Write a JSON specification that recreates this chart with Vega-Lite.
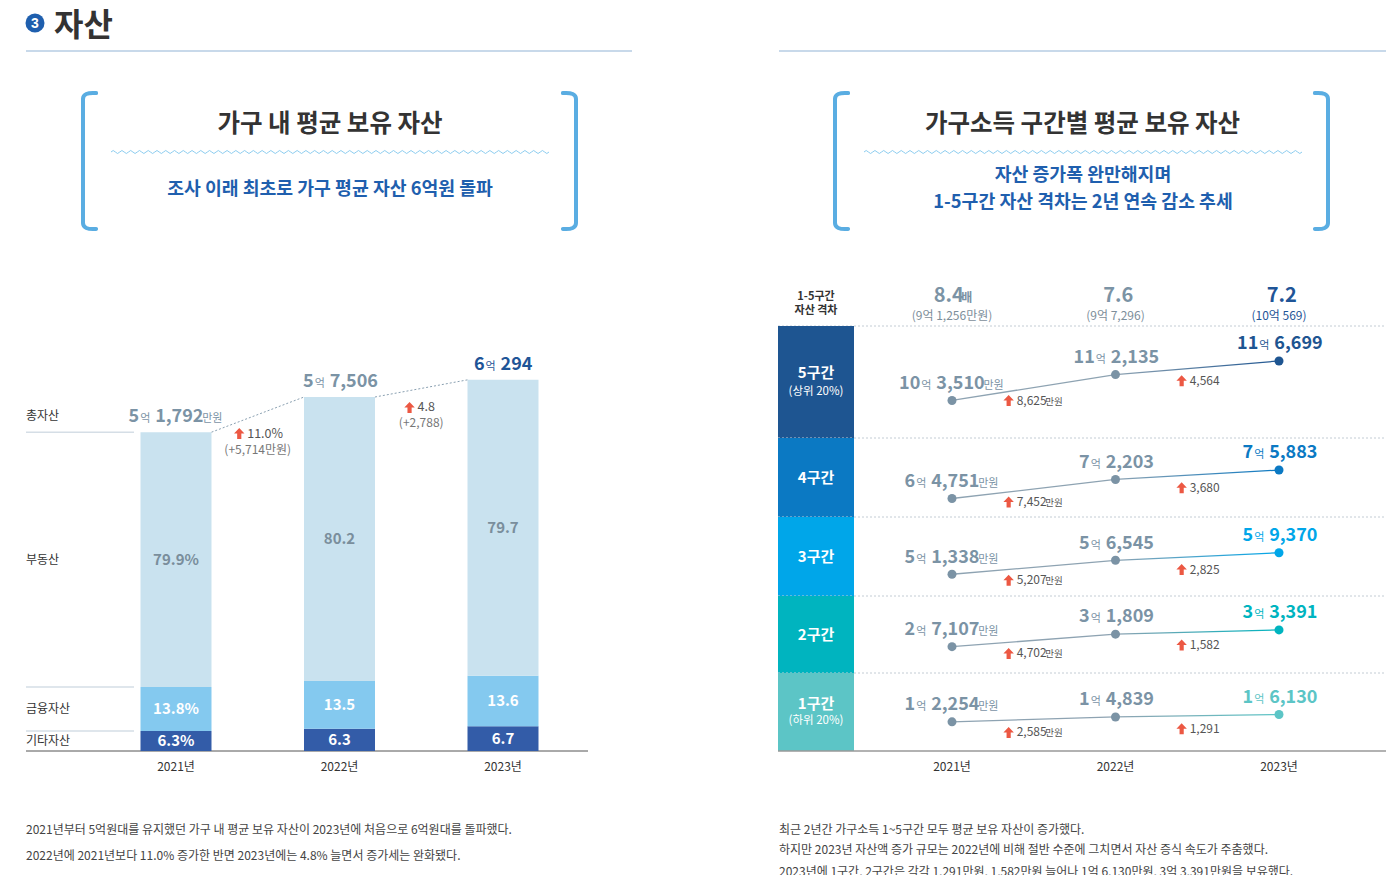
{
  "$schema": "https://vega.github.io/schema/vega-lite/v6.json",
  "background": "#ffffff",
  "padding": {"left": 25, "top": 0, "right": 0, "bottom": 0},
  "spacing": 0,
  "bounds": "full",
  "config": {
    "view": {"stroke": null},
    "font": "Noto Sans CJK KR",
    "axis": {"disable": true},
    "legend": {"disable": true},
    "concat": {"spacing": 0}
  },
  "datasets": {
    "assets": [
      {"year": 2021, "category": "기타자산", "share": 6.3, "amount": 3262.9, "label": "6.3%"},
      {"year": 2021, "category": "금융자산", "share": 13.8, "amount": 7147.3, "label": "13.8%"},
      {"year": 2021, "category": "부동산", "share": 79.9, "amount": 41381.8, "label": "79.9%"},
      {"year": 2022, "category": "기타자산", "share": 6.3, "amount": 3622.9, "label": "6.3"},
      {"year": 2022, "category": "금융자산", "share": 13.5, "amount": 7763.3, "label": "13.5"},
      {"year": 2022, "category": "부동산", "share": 80.2, "amount": 46119.8, "label": "80.2"},
      {"year": 2023, "category": "기타자산", "share": 6.7, "amount": 4039.7, "label": "6.7"},
      {"year": 2023, "category": "금융자산", "share": 13.6, "amount": 8200.0, "label": "13.6"},
      {"year": 2023, "category": "부동산", "share": 79.7, "amount": 48054.3, "label": "79.7"}
    ],
    "totals": [
      {"year": 2021, "total": 51792, "eok": "5", "man": "1,792", "unit": "만원"},
      {"year": 2022, "total": 57506, "eok": "5", "man": "7,506", "unit": ""},
      {"year": 2023, "total": 60294, "eok": "6", "man": "294", "unit": ""}
    ],
    "growth": [
      {"from_year": 2021, "to_year": 2022, "from_total": 51792, "to_total": 57506, "rate": "11.0%", "diff": "(+5,714만원)"},
      {"from_year": 2022, "to_year": 2023, "from_total": 57506, "to_total": 60294, "rate": "4.8", "diff": "(+2,788)"}
    ],
    "years": [
      {"year": 2021, "label": "2021년"},
      {"year": 2022, "label": "2022년"},
      {"year": 2023, "label": "2023년"}
    ],
    "bands": [
      {"band": 5, "name": "5구간", "note": "(상위 20%)"},
      {"band": 4, "name": "4구간", "note": ""},
      {"band": 3, "name": "3구간", "note": ""},
      {"band": 2, "name": "2구간", "note": ""},
      {"band": 1, "name": "1구간", "note": "(하위 20%)"}
    ],
    "gaps": [
      {"year": 2021, "ratio": "8.4", "unit": "배", "amount": "(9억 1,256만원)"},
      {"year": 2022, "ratio": "7.6", "unit": "", "amount": "(9억 7,296)"},
      {"year": 2023, "ratio": "7.2", "unit": "", "amount": "(10억 569)"}
    ],
    "holdings": [
      {"band": 5, "year": 2021, "value": 103510, "eok": "10", "man": "3,510", "unit": "만원"},
      {"band": 5, "year": 2022, "value": 112135, "eok": "11", "man": "2,135", "unit": ""},
      {"band": 5, "year": 2023, "value": 116699, "eok": "11", "man": "6,699", "unit": ""},
      {"band": 4, "year": 2021, "value": 64751, "eok": "6", "man": "4,751", "unit": "만원"},
      {"band": 4, "year": 2022, "value": 72203, "eok": "7", "man": "2,203", "unit": ""},
      {"band": 4, "year": 2023, "value": 75883, "eok": "7", "man": "5,883", "unit": ""},
      {"band": 3, "year": 2021, "value": 51338, "eok": "5", "man": "1,338", "unit": "만원"},
      {"band": 3, "year": 2022, "value": 56545, "eok": "5", "man": "6,545", "unit": ""},
      {"band": 3, "year": 2023, "value": 59370, "eok": "5", "man": "9,370", "unit": ""},
      {"band": 2, "year": 2021, "value": 27107, "eok": "2", "man": "7,107", "unit": "만원"},
      {"band": 2, "year": 2022, "value": 31809, "eok": "3", "man": "1,809", "unit": ""},
      {"band": 2, "year": 2023, "value": 33391, "eok": "3", "man": "3,391", "unit": ""},
      {"band": 1, "year": 2021, "value": 12254, "eok": "1", "man": "2,254", "unit": "만원"},
      {"band": 1, "year": 2022, "value": 14839, "eok": "1", "man": "4,839", "unit": ""},
      {"band": 1, "year": 2023, "value": 16130, "eok": "1", "man": "6,130", "unit": ""}
    ],
    "changes": [
      {"band": 5, "from_year": 2021, "to_year": 2022, "from_value": 103510, "to_value": 112135, "inc": "8,625", "unit": "만원"},
      {"band": 5, "from_year": 2022, "to_year": 2023, "from_value": 112135, "to_value": 116699, "inc": "4,564", "unit": ""},
      {"band": 4, "from_year": 2021, "to_year": 2022, "from_value": 64751, "to_value": 72203, "inc": "7,452", "unit": "만원"},
      {"band": 4, "from_year": 2022, "to_year": 2023, "from_value": 72203, "to_value": 75883, "inc": "3,680", "unit": ""},
      {"band": 3, "from_year": 2021, "to_year": 2022, "from_value": 51338, "to_value": 56545, "inc": "5,207", "unit": "만원"},
      {"band": 3, "from_year": 2022, "to_year": 2023, "from_value": 56545, "to_value": 59370, "inc": "2,825", "unit": ""},
      {"band": 2, "from_year": 2021, "to_year": 2022, "from_value": 27107, "to_value": 31809, "inc": "4,702", "unit": "만원"},
      {"band": 2, "from_year": 2022, "to_year": 2023, "from_value": 31809, "to_value": 33391, "inc": "1,582", "unit": ""},
      {"band": 1, "from_year": 2021, "to_year": 2022, "from_value": 12254, "to_value": 14839, "inc": "2,585", "unit": "만원"},
      {"band": 1, "from_year": 2022, "to_year": 2023, "from_value": 14839, "to_value": 16130, "inc": "1,291", "unit": ""}
    ]
  },
  "vconcat": [
    {
      "width": 1360,
      "height": 245,
      "layer": [
        {"data": {"values": [{}]}, "mark": {"type": "point", "shape": "circle", "filled": true, "size": 361, "color": "#1f5fae", "opacity": 1},
         "encoding": {"x": {"datum": 34, "type": "quantitative", "scale": {"domain": [25, 1385], "nice": false, "zero": false}}, "y": {"datum": 23, "type": "quantitative", "scale": {"domain": [0, 245], "nice": false, "zero": false, "reverse": true}}}},
        {"data": {"values": [{"t": "3"}]}, "mark": {"type": "text", "fontSize": 14, "fontWeight": "bold", "color": "#ffffff", "font": "Liberation Sans"},
         "encoding": {"x": {"datum": 34, "type": "quantitative"}, "y": {"datum": 23.5, "type": "quantitative"}, "text": {"field": "t"}}},
        {"data": {"values": [{"t": "자산"}]}, "mark": {"type": "text", "align": "left", "fontSize": 32, "fontWeight": "bold", "color": "#333333"},
         "encoding": {"x": {"datum": 53, "type": "quantitative"}, "y": {"datum": 26, "type": "quantitative"}, "text": {"field": "t"}}},
        {"data": {"values": [{}]}, "mark": {"type": "rule", "stroke": "#c8d9ea", "strokeWidth": 2},
         "encoding": {"x": {"datum": 25, "type": "quantitative"}, "x2": {"datum": 631}, "y": {"datum": 51, "type": "quantitative"}}},
        {"data": {"values": [{}]}, "mark": {"type": "rule", "stroke": "#c8d9ea", "strokeWidth": 2},
         "encoding": {"x": {"datum": 778, "type": "quantitative"}, "x2": {"datum": 1385}, "y": {"datum": 51, "type": "quantitative"}}},
        {"data": {"values": [{}]}, "mark": {"type": "point", "shape": "M0.19,-0.985Q0,-1,0,-0.9L0,0.9Q0,1,0.19,0.985", "size": 19044, "filled": false, "stroke": "#5aade2", "strokeWidth": 4, "strokeCap": "round", "opacity": 1},
         "encoding": {"x": {"datum": 82, "type": "quantitative"}, "y": {"datum": 161, "type": "quantitative"}}},
        {"data": {"values": [{}]}, "mark": {"type": "point", "shape": "M-0.19,-0.985Q0,-1,0,-0.9L0,0.9Q0,1,-0.19,0.985", "size": 19044, "filled": false, "stroke": "#5aade2", "strokeWidth": 4, "strokeCap": "round", "opacity": 1},
         "encoding": {"x": {"datum": 575, "type": "quantitative"}, "y": {"datum": 161, "type": "quantitative"}}},
        {"data": {"values": [{}]}, "mark": {"type": "point", "shape": "M0.19,-0.985Q0,-1,0,-0.9L0,0.9Q0,1,0.19,0.985", "size": 19044, "filled": false, "stroke": "#5aade2", "strokeWidth": 4, "strokeCap": "round", "opacity": 1},
         "encoding": {"x": {"datum": 834, "type": "quantitative"}, "y": {"datum": 161, "type": "quantitative"}}},
        {"data": {"values": [{}]}, "mark": {"type": "point", "shape": "M-0.19,-0.985Q0,-1,0,-0.9L0,0.9Q0,1,-0.19,0.985", "size": 19044, "filled": false, "stroke": "#5aade2", "strokeWidth": 4, "strokeCap": "round", "opacity": 1},
         "encoding": {"x": {"datum": 1327, "type": "quantitative"}, "y": {"datum": 161, "type": "quantitative"}}},
        {"data": {"values": [{}]}, "mark": {"type": "point", "shape": "M-1,0Q-0.99,-0.0137,-0.98,0Q-0.97,0.0137,-0.96,0Q-0.95,-0.0137,-0.94,0Q-0.93,0.0137,-0.92,0Q-0.91,-0.0137,-0.9,0Q-0.89,0.0137,-0.88,0Q-0.87,-0.0137,-0.86,0Q-0.85,0.0137,-0.84,0Q-0.83,-0.0137,-0.82,0Q-0.81,0.0137,-0.8,0Q-0.79,-0.0137,-0.78,0Q-0.77,0.0137,-0.76,0Q-0.75,-0.0137,-0.74,0Q-0.73,0.0137,-0.72,0Q-0.71,-0.0137,-0.7,0Q-0.69,0.0137,-0.68,0Q-0.67,-0.0137,-0.66,0Q-0.65,0.0137,-0.64,0Q-0.63,-0.0137,-0.62,0Q-0.61,0.0137,-0.6,0Q-0.59,-0.0137,-0.58,0Q-0.57,0.0137,-0.56,0Q-0.55,-0.0137,-0.54,0Q-0.53,0.0137,-0.52,0Q-0.51,-0.0137,-0.5,0Q-0.49,0.0137,-0.48,0Q-0.47,-0.0137,-0.46,0Q-0.45,0.0137,-0.44,0Q-0.43,-0.0137,-0.42,0Q-0.41,0.0137,-0.4,0Q-0.39,-0.0137,-0.38,0Q-0.37,0.0137,-0.36,0Q-0.35,-0.0137,-0.34,0Q-0.33,0.0137,-0.32,0Q-0.31,-0.0137,-0.3,0Q-0.29,0.0137,-0.28,0Q-0.27,-0.0137,-0.26,0Q-0.25,0.0137,-0.24,0Q-0.23,-0.0137,-0.22,0Q-0.21,0.0137,-0.2,0Q-0.19,-0.0137,-0.18,0Q-0.17,0.0137,-0.16,0Q-0.15,-0.0137,-0.14,0Q-0.13,0.0137,-0.12,0Q-0.11,-0.0137,-0.1,0Q-0.09,0.0137,-0.08,0Q-0.07,-0.0137,-0.06,0Q-0.05,0.0137,-0.04,0Q-0.03,-0.0137,-0.02,0Q-0.01,0.0137,0,0Q0.01,-0.0137,0.02,0Q0.03,0.0137,0.04,0Q0.05,-0.0137,0.06,0Q0.07,0.0137,0.08,0Q0.09,-0.0137,0.1,0Q0.11,0.0137,0.12,0Q0.13,-0.0137,0.14,0Q0.15,0.0137,0.16,0Q0.17,-0.0137,0.18,0Q0.19,0.0137,0.2,0Q0.21,-0.0137,0.22,0Q0.23,0.0137,0.24,0Q0.25,-0.0137,0.26,0Q0.27,0.0137,0.28,0Q0.29,-0.0137,0.3,0Q0.31,0.0137,0.32,0Q0.33,-0.0137,0.34,0Q0.35,0.0137,0.36,0Q0.37,-0.0137,0.38,0Q0.39,0.0137,0.4,0Q0.41,-0.0137,0.42,0Q0.43,0.0137,0.44,0Q0.45,-0.0137,0.46,0Q0.47,0.0137,0.48,0Q0.49,-0.0137,0.5,0Q0.51,0.0137,0.52,0Q0.53,-0.0137,0.54,0Q0.55,0.0137,0.56,0Q0.57,-0.0137,0.58,0Q0.59,0.0137,0.6,0Q0.61,-0.0137,0.62,0Q0.63,0.0137,0.64,0Q0.65,-0.0137,0.66,0Q0.67,0.0137,0.68,0Q0.69,-0.0137,0.7,0Q0.71,0.0137,0.72,0Q0.73,-0.0137,0.74,0Q0.75,0.0137,0.76,0Q0.77,-0.0137,0.78,0Q0.79,0.0137,0.8,0Q0.81,-0.0137,0.82,0Q0.83,0.0137,0.84,0Q0.85,-0.0137,0.86,0Q0.87,0.0137,0.88,0Q0.89,-0.0137,0.9,0Q0.91,0.0137,0.92,0Q0.93,-0.0137,0.94,0Q0.95,0.0137,0.96,0Q0.97,-0.0137,0.98,0Q0.99,0.0137,1,0", "size": 191844, "filled": false, "stroke": "#8ccdf0", "strokeWidth": 1, "opacity": 1},
         "encoding": {"x": {"datum": 329, "type": "quantitative"}, "y": {"datum": 152, "type": "quantitative"}}},
        {"data": {"values": [{}]}, "mark": {"type": "point", "shape": "M-1,0Q-0.99,-0.0137,-0.98,0Q-0.97,0.0137,-0.96,0Q-0.95,-0.0137,-0.94,0Q-0.93,0.0137,-0.92,0Q-0.91,-0.0137,-0.9,0Q-0.89,0.0137,-0.88,0Q-0.87,-0.0137,-0.86,0Q-0.85,0.0137,-0.84,0Q-0.83,-0.0137,-0.82,0Q-0.81,0.0137,-0.8,0Q-0.79,-0.0137,-0.78,0Q-0.77,0.0137,-0.76,0Q-0.75,-0.0137,-0.74,0Q-0.73,0.0137,-0.72,0Q-0.71,-0.0137,-0.7,0Q-0.69,0.0137,-0.68,0Q-0.67,-0.0137,-0.66,0Q-0.65,0.0137,-0.64,0Q-0.63,-0.0137,-0.62,0Q-0.61,0.0137,-0.6,0Q-0.59,-0.0137,-0.58,0Q-0.57,0.0137,-0.56,0Q-0.55,-0.0137,-0.54,0Q-0.53,0.0137,-0.52,0Q-0.51,-0.0137,-0.5,0Q-0.49,0.0137,-0.48,0Q-0.47,-0.0137,-0.46,0Q-0.45,0.0137,-0.44,0Q-0.43,-0.0137,-0.42,0Q-0.41,0.0137,-0.4,0Q-0.39,-0.0137,-0.38,0Q-0.37,0.0137,-0.36,0Q-0.35,-0.0137,-0.34,0Q-0.33,0.0137,-0.32,0Q-0.31,-0.0137,-0.3,0Q-0.29,0.0137,-0.28,0Q-0.27,-0.0137,-0.26,0Q-0.25,0.0137,-0.24,0Q-0.23,-0.0137,-0.22,0Q-0.21,0.0137,-0.2,0Q-0.19,-0.0137,-0.18,0Q-0.17,0.0137,-0.16,0Q-0.15,-0.0137,-0.14,0Q-0.13,0.0137,-0.12,0Q-0.11,-0.0137,-0.1,0Q-0.09,0.0137,-0.08,0Q-0.07,-0.0137,-0.06,0Q-0.05,0.0137,-0.04,0Q-0.03,-0.0137,-0.02,0Q-0.01,0.0137,0,0Q0.01,-0.0137,0.02,0Q0.03,0.0137,0.04,0Q0.05,-0.0137,0.06,0Q0.07,0.0137,0.08,0Q0.09,-0.0137,0.1,0Q0.11,0.0137,0.12,0Q0.13,-0.0137,0.14,0Q0.15,0.0137,0.16,0Q0.17,-0.0137,0.18,0Q0.19,0.0137,0.2,0Q0.21,-0.0137,0.22,0Q0.23,0.0137,0.24,0Q0.25,-0.0137,0.26,0Q0.27,0.0137,0.28,0Q0.29,-0.0137,0.3,0Q0.31,0.0137,0.32,0Q0.33,-0.0137,0.34,0Q0.35,0.0137,0.36,0Q0.37,-0.0137,0.38,0Q0.39,0.0137,0.4,0Q0.41,-0.0137,0.42,0Q0.43,0.0137,0.44,0Q0.45,-0.0137,0.46,0Q0.47,0.0137,0.48,0Q0.49,-0.0137,0.5,0Q0.51,0.0137,0.52,0Q0.53,-0.0137,0.54,0Q0.55,0.0137,0.56,0Q0.57,-0.0137,0.58,0Q0.59,0.0137,0.6,0Q0.61,-0.0137,0.62,0Q0.63,0.0137,0.64,0Q0.65,-0.0137,0.66,0Q0.67,0.0137,0.68,0Q0.69,-0.0137,0.7,0Q0.71,0.0137,0.72,0Q0.73,-0.0137,0.74,0Q0.75,0.0137,0.76,0Q0.77,-0.0137,0.78,0Q0.79,0.0137,0.8,0Q0.81,-0.0137,0.82,0Q0.83,0.0137,0.84,0Q0.85,-0.0137,0.86,0Q0.87,0.0137,0.88,0Q0.89,-0.0137,0.9,0Q0.91,0.0137,0.92,0Q0.93,-0.0137,0.94,0Q0.95,0.0137,0.96,0Q0.97,-0.0137,0.98,0Q0.99,0.0137,1,0", "size": 191844, "filled": false, "stroke": "#8ccdf0", "strokeWidth": 1, "opacity": 1},
         "encoding": {"x": {"datum": 1082, "type": "quantitative"}, "y": {"datum": 152, "type": "quantitative"}}},
        {"data": {"values": [{"t": "가구 내 평균 보유 자산"}]}, "mark": {"type": "text", "fontSize": 24.5, "fontWeight": "bold", "color": "#333333"},
         "encoding": {"x": {"datum": 329, "type": "quantitative"}, "y": {"datum": 125, "type": "quantitative"}, "text": {"field": "t"}}},
        {"data": {"values": [{"t": "조사 이래 최초로 가구 평균 자산 6억원 돌파"}]}, "mark": {"type": "text", "fontSize": 18.3, "fontWeight": "bold", "color": "#1f5fae"},
         "encoding": {"x": {"datum": 329, "type": "quantitative"}, "y": {"datum": 190, "type": "quantitative"}, "text": {"field": "t"}}},
        {"data": {"values": [{"t": "가구소득 구간별 평균 보유 자산"}]}, "mark": {"type": "text", "fontSize": 24.5, "fontWeight": "bold", "color": "#333333"},
         "encoding": {"x": {"datum": 1081.5, "type": "quantitative"}, "y": {"datum": 125, "type": "quantitative"}, "text": {"field": "t"}}},
        {"data": {"values": [{"t": "자산 증가폭 완만해지며"}]}, "mark": {"type": "text", "fontSize": 18.3, "fontWeight": "bold", "color": "#1f5fae"},
         "encoding": {"x": {"datum": 1082, "type": "quantitative"}, "y": {"datum": 176, "type": "quantitative"}, "text": {"field": "t"}}},
        {"data": {"values": [{"t": "1-5구간 자산 격차는 2년 연속 감소 추세"}]}, "mark": {"type": "text", "fontSize": 18.3, "fontWeight": "bold", "color": "#1f5fae"},
         "encoding": {"x": {"datum": 1082, "type": "quantitative"}, "y": {"datum": 203, "type": "quantitative"}, "text": {"field": "t"}}}
      ]
    },
    {
      "hconcat": [
        {
          "width": 562,
          "height": 536,
          "layer": [
            {"data": {"values": [{}]}, "mark": {"type": "rule", "stroke": "#555555", "strokeWidth": 1},
             "encoding": {"x": {"datum": 2020.08257, "type": "quantitative", "scale": {"domain": [2020.08257, 2023.51988], "nice": false, "zero": false, "padding": 0}}, "x2": {"datum": 2023.51988}, "y": {"datum": 0, "type": "quantitative", "scale": {"domain": [-4873, 82200], "nice": false, "zero": false, "padding": 0}}}},
            {"data": {"name": "assets"}, "transform": [{"stack": "amount", "groupby": ["year"], "sort": [{"field": "share", "order": "ascending"}], "as": ["y0", "y1"]}, {"filter": "datum.year === 2021"}],
             "mark": {"type": "rule", "stroke": "#d5dee6", "strokeWidth": 1.5},
             "encoding": {"x": {"datum": 2020.08257, "type": "quantitative"}, "x2": {"datum": 2020.74312}, "y": {"field": "y1", "type": "quantitative"}}},
            {"data": {"name": "assets"}, "transform": [{"stack": "amount", "groupby": ["year"], "sort": [{"field": "share", "order": "ascending"}], "as": ["y0", "y1"]}],
             "mark": {"type": "bar", "width": 71},
             "encoding": {
               "x": {"field": "year", "type": "quantitative"},
               "y": {"field": "y0", "type": "quantitative"},
               "y2": {"field": "y1"},
               "color": {"field": "category", "type": "nominal", "scale": {"domain": ["부동산", "금융자산", "기타자산"], "range": ["#c9e2ef", "#84c9ef", "#335ca8"]}}
             }},
            {"data": {"name": "assets"}, "transform": [{"stack": "amount", "groupby": ["year"], "sort": [{"field": "share", "order": "ascending"}], "as": ["y0", "y1"]}, {"fold": ["y0", "y1"], "as": ["edge", "pos"]}],
             "mark": {"type": "text", "fontSize": 15, "fontWeight": "bold"},
             "encoding": {
               "x": {"field": "year", "type": "quantitative"},
               "y": {"aggregate": "mean", "field": "pos", "type": "quantitative"},
               "text": {"field": "label"},
               "detail": {"field": "category"},
               "color": {"condition": {"test": "datum.category === '부동산'", "value": "#7a8e9c"}, "value": "#ffffff"}
             }},
            {"data": {"name": "assets"}, "transform": [{"stack": "amount", "groupby": ["year"], "sort": [{"field": "share", "order": "ascending"}], "as": ["y0", "y1"]}, {"filter": "datum.year === 2021"}, {"fold": ["y0", "y1"], "as": ["edge", "pos"]}],
             "mark": {"type": "text", "align": "left", "fontSize": 12, "color": "#333333"},
             "encoding": {
               "x": {"datum": 2020.08257, "type": "quantitative"},
               "y": {"aggregate": "mean", "field": "pos", "type": "quantitative"},
               "text": {"field": "category"}
             }},
            {"data": {"name": "totals"}, "transform": [{"filter": "datum.year === 2021"}],
             "mark": {"type": "text", "align": "left", "fontSize": 12, "color": "#333333", "dy": -16},
             "encoding": {"x": {"datum": 2020.08257, "type": "quantitative"}, "y": {"field": "total", "type": "quantitative"}, "text": {"value": "총자산"}}},
            {"data": {"name": "growth"},
             "mark": {"type": "rule", "stroke": "#8aa0b1", "strokeWidth": 1, "strokeDash": [2, 2], "xOffset": 35.5, "x2Offset": -35.5},
             "encoding": {"x": {"field": "from_year", "type": "quantitative"}, "x2": {"field": "to_year"}, "y": {"field": "from_total", "type": "quantitative"}, "y2": {"field": "to_total"}}},
            {"data": {"name": "growth"}, "transform": [{"fold": ["from_year", "to_year"], "as": ["k1", "yr"]}, {"fold": ["from_total", "to_total"], "as": ["k2", "tot"]}],
             "mark": {"type": "point", "shape": "M0,-1L0.95,0L0.38,0L0.38,1L-0.38,1L-0.38,0L-0.95,0Z", "size": 121, "filled": true, "opacity": 1, "color": "#ec5843", "yOffset": 19, "xOffset": {"expr": "-(13+length(datum.rate)*6.8)/2+5"}},
             "encoding": {"x": {"aggregate": "mean", "field": "yr", "type": "quantitative"}, "y": {"aggregate": "mean", "field": "tot", "type": "quantitative"}, "detail": {"field": "rate"}}},
            {"data": {"name": "growth"}, "transform": [{"fold": ["from_year", "to_year"], "as": ["k1", "yr"]}, {"fold": ["from_total", "to_total"], "as": ["k2", "tot"]}],
             "mark": {"type": "text", "align": "left", "fontSize": 12.5, "color": "#555555", "dy": 19, "dx": {"expr": "-(13+length(datum.rate)*6.8)/2+13"}},
             "encoding": {"x": {"aggregate": "mean", "field": "yr", "type": "quantitative"}, "y": {"aggregate": "mean", "field": "tot", "type": "quantitative"}, "text": {"field": "rate"}}},
            {"data": {"name": "growth"}, "transform": [{"fold": ["from_year", "to_year"], "as": ["k1", "yr"]}, {"fold": ["from_total", "to_total"], "as": ["k2", "tot"]}],
             "mark": {"type": "text", "fontSize": 12, "color": "#777777", "dy": 35},
             "encoding": {"x": {"aggregate": "mean", "field": "yr", "type": "quantitative"}, "y": {"aggregate": "mean", "field": "tot", "type": "quantitative"}, "text": {"field": "diff"}}},
            {"data": {"name": "totals"},
             "mark": {"type": "text", "align": "right", "baseline": "alphabetic", "fontSize": 18, "fontWeight": "bold", "dy": -9.7, "dx": {"expr": "(length(datum.eok)*10.4-16-length(replace(datum.man,',',''))*10.4-(length(datum.man)-length(replace(datum.man,',','')))*4.5-length(datum.unit)*11)/2"}},
             "encoding": {"x": {"field": "year", "type": "quantitative"}, "y": {"field": "total", "type": "quantitative"}, "text": {"field": "eok"}, "color": {"condition": {"test": "datum.year === 2023", "value": "#1f5597"}, "value": "#7b93a5"}}},
            {"data": {"name": "totals"},
             "mark": {"type": "text", "align": "left", "baseline": "alphabetic", "fontSize": 11, "dy": -9.7, "dx": {"expr": "(length(datum.eok)*10.4-16-length(replace(datum.man,',',''))*10.4-(length(datum.man)-length(replace(datum.man,',','')))*4.5-length(datum.unit)*11)/2+1"}},
             "encoding": {"x": {"field": "year", "type": "quantitative"}, "y": {"field": "total", "type": "quantitative"}, "text": {"value": "억"}, "color": {"condition": {"test": "datum.year === 2023", "value": "#1f5597"}, "value": "#7b93a5"}}},
            {"data": {"name": "totals"},
             "mark": {"type": "text", "align": "left", "baseline": "alphabetic", "fontSize": 18, "fontWeight": "bold", "dy": -9.7, "dx": {"expr": "(length(datum.eok)*10.4-16-length(replace(datum.man,',',''))*10.4-(length(datum.man)-length(replace(datum.man,',','')))*4.5-length(datum.unit)*11)/2+16"}},
             "encoding": {"x": {"field": "year", "type": "quantitative"}, "y": {"field": "total", "type": "quantitative"}, "text": {"field": "man"}, "color": {"condition": {"test": "datum.year === 2023", "value": "#1f5597"}, "value": "#7b93a5"}}},
            {"data": {"name": "totals"},
             "mark": {"type": "text", "align": "left", "baseline": "alphabetic", "fontSize": 11, "dy": -9.7, "dx": {"expr": "(length(datum.eok)*10.4-16-length(replace(datum.man,',',''))*10.4-(length(datum.man)-length(replace(datum.man,',','')))*4.5-length(datum.unit)*11)/2+17+length(replace(datum.man,',',''))*10.4+(length(datum.man)-length(replace(datum.man,',','')))*4.5"}},
             "encoding": {"x": {"field": "year", "type": "quantitative"}, "y": {"field": "total", "type": "quantitative"}, "text": {"field": "unit"}, "color": {"condition": {"test": "datum.year === 2023", "value": "#1f5597"}, "value": "#7b93a5"}}},
            {"data": {"name": "years"},
             "mark": {"type": "text", "fontSize": 12, "color": "#333333", "dy": 16},
             "encoding": {"x": {"field": "year", "type": "quantitative"}, "y": {"datum": 0, "type": "quantitative"}, "text": {"field": "label"}}}
          ]
        },
        {
          "vconcat": [
            {
              "width": 608,
              "height": 81,
              "layer": [
                {"data": {"values": [{"t": "1-5구간"}]}, "mark": {"type": "text", "fontSize": 11, "fontWeight": "bold", "color": "#333333"},
                 "encoding": {"x": {"datum": 2020.1682, "type": "quantitative", "scale": {"domain": [2019.93578, 2023.65443], "nice": false, "zero": false, "padding": 0}}, "y": {"datum": 297, "type": "quantitative", "scale": {"domain": [245, 326], "nice": false, "zero": false, "reverse": true}}, "text": {"field": "t"}}},
                {"data": {"values": [{"t": "자산 격차"}]}, "mark": {"type": "text", "fontSize": 11, "fontWeight": "bold", "color": "#333333"},
                 "encoding": {"x": {"datum": 2020.1682, "type": "quantitative"}, "y": {"datum": 311, "type": "quantitative"}, "text": {"field": "t"}}},
                {"data": {"name": "gaps"},
                 "mark": {"type": "text", "align": "left", "baseline": "alphabetic", "fontSize": 20, "fontWeight": "bold", "dy": 6, "dx": {"expr": "-(length(replace(datum.ratio,'.',''))*10+4.5+length(datum.unit)*12)/2"}},
                 "encoding": {"x": {"field": "year", "type": "quantitative"}, "y": {"datum": 296, "type": "quantitative"}, "text": {"field": "ratio"}, "color": {"condition": {"test": "datum.year === 2023", "value": "#1f5597"}, "value": "#7b93a5"}}},
                {"data": {"name": "gaps"},
                 "mark": {"type": "text", "align": "left", "baseline": "alphabetic", "fontSize": 12, "fontWeight": "bold", "dy": 6, "dx": {"expr": "-(length(replace(datum.ratio,'.',''))*10+4.5+length(datum.unit)*12)/2+length(replace(datum.ratio,'.',''))*10+7.5"}},
                 "encoding": {"x": {"field": "year", "type": "quantitative"}, "y": {"datum": 296, "type": "quantitative"}, "text": {"field": "unit"}, "color": {"condition": {"test": "datum.year === 2023", "value": "#1f5597"}, "value": "#7b93a5"}}},
                {"data": {"name": "gaps"},
                 "mark": {"type": "text", "fontSize": 12},
                 "encoding": {"x": {"field": "year", "type": "quantitative"}, "y": {"datum": 316, "type": "quantitative"}, "text": {"field": "amount"}, "color": {"condition": {"test": "datum.year === 2023", "value": "#1f5597"}, "value": "#7d8e9a"}}}
              ]
            },
            {
              "width": 608,
              "height": 112,
              "layer": [
                {"data": {"name": "bands"}, "transform": [{"filter": "datum.band === 5"}],
                 "mark": {"type": "rule", "stroke": "#c3ccd4", "strokeWidth": 1, "strokeDash": [2, 2]},
                 "encoding": {"x": {"datum": 2019.93578, "type": "quantitative", "scale": {"domain": [2019.93578, 2023.65443], "nice": false, "zero": false, "padding": 0}}, "x2": {"datum": 2023.65443}, "y": {"datum": 128369, "type": "quantitative", "scale": {"domain": [90969, 128369], "nice": false, "zero": false}}}},
                {"data": {"name": "bands"}, "transform": [{"filter": "datum.band === 5"}],
                 "mark": {"type": "rect", "color": "#1e5591"},
                 "encoding": {"x": {"datum": 2019.93578, "type": "quantitative"}, "x2": {"datum": 2020.40061}, "y": {"datum": 90969, "type": "quantitative"}, "y2": {"datum": 128369}}},
                {"data": {"name": "bands"}, "transform": [{"filter": "datum.band === 5"}],
                 "mark": {"type": "text", "fontSize": 15, "fontWeight": "bold", "color": "#ffffff", "dy": -9},
                 "encoding": {"x": {"datum": 2020.1682, "type": "quantitative"}, "y": {"datum": 109669, "type": "quantitative"}, "text": {"field": "name"}}},
                {"data": {"name": "bands"}, "transform": [{"filter": "datum.band === 5"}],
                 "mark": {"type": "text", "fontSize": 11.5, "color": "#ffffff", "dy": 10},
                 "encoding": {"x": {"datum": 2020.1682, "type": "quantitative"}, "y": {"datum": 109669, "type": "quantitative"}, "text": {"field": "note"}}},
                {"data": {"name": "holdings"}, "transform": [{"filter": "datum.band === 5 && datum.year <= 2022"}],
                 "mark": {"type": "line", "stroke": "#8ea3b2", "strokeWidth": 1.3},
                 "encoding": {"x": {"field": "year", "type": "quantitative"}, "y": {"field": "value", "type": "quantitative"}}},
                {"data": {"name": "holdings"}, "transform": [{"filter": "datum.band === 5 && datum.year >= 2022"}],
                 "mark": {"type": "line", "strokeWidth": 1.3, "stroke": {"gradient": "linear", "stops": [{"offset": 0, "color": "#8ea3b2"}, {"offset": 1, "color": "#1e5591"}]}},
                 "encoding": {"x": {"field": "year", "type": "quantitative"}, "y": {"field": "value", "type": "quantitative"}}},
                {"data": {"name": "holdings"}, "transform": [{"filter": "datum.band === 5"}],
                 "mark": {"type": "point", "shape": "circle", "filled": true, "size": 81, "opacity": 1},
                 "encoding": {"x": {"field": "year", "type": "quantitative"}, "y": {"field": "value", "type": "quantitative"}, "color": {"condition": {"test": "datum.year === 2023", "value": "#1e5591"}, "value": "#7b93a5"}}},
                {"data": {"name": "holdings"}, "transform": [{"filter": "datum.band === 5"}],
                 "mark": {"type": "text", "align": "right", "baseline": "alphabetic", "fontSize": 18, "fontWeight": "bold", "dy": -11.7, "dx": {"expr": "(length(datum.eok)*10.4-16-length(replace(datum.man,',',''))*10.4-(length(datum.man)-length(replace(datum.man,',','')))*4.5-length(datum.unit)*11)/2"}},
                 "encoding": {"x": {"field": "year", "type": "quantitative"}, "y": {"field": "value", "type": "quantitative"}, "text": {"field": "eok"}, "color": {"condition": {"test": "datum.year === 2023", "value": "#1e5591"}, "value": "#7b93a5"}}},
                {"data": {"name": "holdings"}, "transform": [{"filter": "datum.band === 5"}],
                 "mark": {"type": "text", "align": "left", "baseline": "alphabetic", "fontSize": 11, "dy": -11.7, "dx": {"expr": "(length(datum.eok)*10.4-16-length(replace(datum.man,',',''))*10.4-(length(datum.man)-length(replace(datum.man,',','')))*4.5-length(datum.unit)*11)/2+1"}},
                 "encoding": {"x": {"field": "year", "type": "quantitative"}, "y": {"field": "value", "type": "quantitative"}, "text": {"value": "억"}, "color": {"condition": {"test": "datum.year === 2023", "value": "#1e5591"}, "value": "#7b93a5"}}},
                {"data": {"name": "holdings"}, "transform": [{"filter": "datum.band === 5"}],
                 "mark": {"type": "text", "align": "left", "baseline": "alphabetic", "fontSize": 18, "fontWeight": "bold", "dy": -11.7, "dx": {"expr": "(length(datum.eok)*10.4-16-length(replace(datum.man,',',''))*10.4-(length(datum.man)-length(replace(datum.man,',','')))*4.5-length(datum.unit)*11)/2+16"}},
                 "encoding": {"x": {"field": "year", "type": "quantitative"}, "y": {"field": "value", "type": "quantitative"}, "text": {"field": "man"}, "color": {"condition": {"test": "datum.year === 2023", "value": "#1e5591"}, "value": "#7b93a5"}}},
                {"data": {"name": "holdings"}, "transform": [{"filter": "datum.band === 5"}],
                 "mark": {"type": "text", "align": "left", "baseline": "alphabetic", "fontSize": 11, "dy": -11.7, "dx": {"expr": "(length(datum.eok)*10.4-16-length(replace(datum.man,',',''))*10.4-(length(datum.man)-length(replace(datum.man,',','')))*4.5-length(datum.unit)*11)/2+17+length(replace(datum.man,',',''))*10.4+(length(datum.man)-length(replace(datum.man,',','')))*4.5"}},
                 "encoding": {"x": {"field": "year", "type": "quantitative"}, "y": {"field": "value", "type": "quantitative"}, "text": {"field": "unit"}, "color": {"condition": {"test": "datum.year === 2023", "value": "#1e5591"}, "value": "#7b93a5"}}},
                {"data": {"name": "changes"}, "transform": [{"filter": "datum.band === 5"}, {"fold": ["from_year", "to_year"], "as": ["k1", "yr"]}, {"fold": ["from_value", "to_value"], "as": ["k2", "val"]}],
                 "mark": {"type": "point", "shape": "M0,-1L0.95,0L0.38,0L0.38,1L-0.38,1L-0.38,0L-0.95,0Z", "size": 121, "filled": true, "opacity": 1, "color": "#ec5843", "yOffset": 13, "xOffset": {"expr": "-(13+length(replace(datum.inc,',',''))*6.3+(length(datum.inc)-length(replace(datum.inc,',','')))*3+length(datum.unit)*9.5)/2+5"}},
                 "encoding": {"x": {"aggregate": "mean", "field": "yr", "type": "quantitative"}, "y": {"aggregate": "mean", "field": "val", "type": "quantitative"}, "detail": [{"field": "inc"}, {"field": "unit"}]}},
                {"data": {"name": "changes"}, "transform": [{"filter": "datum.band === 5"}, {"fold": ["from_year", "to_year"], "as": ["k1", "yr"]}, {"fold": ["from_value", "to_value"], "as": ["k2", "val"]}],
                 "mark": {"type": "text", "align": "left", "fontSize": 12, "color": "#555555", "dy": 13, "dx": {"expr": "-(13+length(replace(datum.inc,',',''))*6.3+(length(datum.inc)-length(replace(datum.inc,',','')))*3+length(datum.unit)*9.5)/2+13"}},
                 "encoding": {"x": {"aggregate": "mean", "field": "yr", "type": "quantitative"}, "y": {"aggregate": "mean", "field": "val", "type": "quantitative"}, "text": {"field": "inc"}, "detail": {"field": "unit"}}},
                {"data": {"name": "changes"}, "transform": [{"filter": "datum.band === 5"}, {"fold": ["from_year", "to_year"], "as": ["k1", "yr"]}, {"fold": ["from_value", "to_value"], "as": ["k2", "val"]}],
                 "mark": {"type": "text", "align": "left", "fontSize": 9.5, "color": "#555555", "dy": 14, "dx": {"expr": "-(13+length(replace(datum.inc,',',''))*6.3+(length(datum.inc)-length(replace(datum.inc,',','')))*3+length(datum.unit)*9.5)/2+13.5+length(replace(datum.inc,',',''))*6.3+(length(datum.inc)-length(replace(datum.inc,',','')))*3"}},
                 "encoding": {"x": {"aggregate": "mean", "field": "yr", "type": "quantitative"}, "y": {"aggregate": "mean", "field": "val", "type": "quantitative"}, "text": {"field": "unit"}, "detail": {"field": "inc"}}}
              ]
            },
            {
              "width": 608,
              "height": 79,
              "layer": [
                {"data": {"name": "bands"}, "transform": [{"filter": "datum.band === 4"}],
                 "mark": {"type": "rule", "stroke": "#c3ccd4", "strokeWidth": 1, "strokeDash": [2, 2]},
                 "encoding": {"x": {"datum": 2019.93578, "type": "quantitative", "scale": {"domain": [2019.93578, 2023.65443], "nice": false, "zero": false, "padding": 0}}, "x2": {"datum": 2023.65443}, "y": {"datum": 88409, "type": "quantitative", "scale": {"domain": [57525, 88409], "nice": false, "zero": false}}}},
                {"data": {"name": "bands"}, "transform": [{"filter": "datum.band === 4"}],
                 "mark": {"type": "rect", "color": "#0b79c3"},
                 "encoding": {"x": {"datum": 2019.93578, "type": "quantitative"}, "x2": {"datum": 2020.40061}, "y": {"datum": 57525, "type": "quantitative"}, "y2": {"datum": 88409}}},
                {"data": {"name": "bands"}, "transform": [{"filter": "datum.band === 4"}],
                 "mark": {"type": "text", "fontSize": 15, "fontWeight": "bold", "color": "#ffffff"},
                 "encoding": {"x": {"datum": 2020.1682, "type": "quantitative"}, "y": {"datum": 72967, "type": "quantitative"}, "text": {"field": "name"}}},
                {"data": {"name": "holdings"}, "transform": [{"filter": "datum.band === 4 && datum.year <= 2022"}],
                 "mark": {"type": "line", "stroke": "#8ea3b2", "strokeWidth": 1.3},
                 "encoding": {"x": {"field": "year", "type": "quantitative"}, "y": {"field": "value", "type": "quantitative"}}},
                {"data": {"name": "holdings"}, "transform": [{"filter": "datum.band === 4 && datum.year >= 2022"}],
                 "mark": {"type": "line", "strokeWidth": 1.3, "stroke": {"gradient": "linear", "stops": [{"offset": 0, "color": "#8ea3b2"}, {"offset": 1, "color": "#0b79c3"}]}},
                 "encoding": {"x": {"field": "year", "type": "quantitative"}, "y": {"field": "value", "type": "quantitative"}}},
                {"data": {"name": "holdings"}, "transform": [{"filter": "datum.band === 4"}],
                 "mark": {"type": "point", "shape": "circle", "filled": true, "size": 81, "opacity": 1},
                 "encoding": {"x": {"field": "year", "type": "quantitative"}, "y": {"field": "value", "type": "quantitative"}, "color": {"condition": {"test": "datum.year === 2023", "value": "#0b79c3"}, "value": "#7b93a5"}}},
                {"data": {"name": "holdings"}, "transform": [{"filter": "datum.band === 4"}],
                 "mark": {"type": "text", "align": "right", "baseline": "alphabetic", "fontSize": 18, "fontWeight": "bold", "dy": -11.7, "dx": {"expr": "(length(datum.eok)*10.4-16-length(replace(datum.man,',',''))*10.4-(length(datum.man)-length(replace(datum.man,',','')))*4.5-length(datum.unit)*11)/2"}},
                 "encoding": {"x": {"field": "year", "type": "quantitative"}, "y": {"field": "value", "type": "quantitative"}, "text": {"field": "eok"}, "color": {"condition": {"test": "datum.year === 2023", "value": "#0b79c3"}, "value": "#7b93a5"}}},
                {"data": {"name": "holdings"}, "transform": [{"filter": "datum.band === 4"}],
                 "mark": {"type": "text", "align": "left", "baseline": "alphabetic", "fontSize": 11, "dy": -11.7, "dx": {"expr": "(length(datum.eok)*10.4-16-length(replace(datum.man,',',''))*10.4-(length(datum.man)-length(replace(datum.man,',','')))*4.5-length(datum.unit)*11)/2+1"}},
                 "encoding": {"x": {"field": "year", "type": "quantitative"}, "y": {"field": "value", "type": "quantitative"}, "text": {"value": "억"}, "color": {"condition": {"test": "datum.year === 2023", "value": "#0b79c3"}, "value": "#7b93a5"}}},
                {"data": {"name": "holdings"}, "transform": [{"filter": "datum.band === 4"}],
                 "mark": {"type": "text", "align": "left", "baseline": "alphabetic", "fontSize": 18, "fontWeight": "bold", "dy": -11.7, "dx": {"expr": "(length(datum.eok)*10.4-16-length(replace(datum.man,',',''))*10.4-(length(datum.man)-length(replace(datum.man,',','')))*4.5-length(datum.unit)*11)/2+16"}},
                 "encoding": {"x": {"field": "year", "type": "quantitative"}, "y": {"field": "value", "type": "quantitative"}, "text": {"field": "man"}, "color": {"condition": {"test": "datum.year === 2023", "value": "#0b79c3"}, "value": "#7b93a5"}}},
                {"data": {"name": "holdings"}, "transform": [{"filter": "datum.band === 4"}],
                 "mark": {"type": "text", "align": "left", "baseline": "alphabetic", "fontSize": 11, "dy": -11.7, "dx": {"expr": "(length(datum.eok)*10.4-16-length(replace(datum.man,',',''))*10.4-(length(datum.man)-length(replace(datum.man,',','')))*4.5-length(datum.unit)*11)/2+17+length(replace(datum.man,',',''))*10.4+(length(datum.man)-length(replace(datum.man,',','')))*4.5"}},
                 "encoding": {"x": {"field": "year", "type": "quantitative"}, "y": {"field": "value", "type": "quantitative"}, "text": {"field": "unit"}, "color": {"condition": {"test": "datum.year === 2023", "value": "#0b79c3"}, "value": "#7b93a5"}}},
                {"data": {"name": "changes"}, "transform": [{"filter": "datum.band === 4"}, {"fold": ["from_year", "to_year"], "as": ["k1", "yr"]}, {"fold": ["from_value", "to_value"], "as": ["k2", "val"]}],
                 "mark": {"type": "point", "shape": "M0,-1L0.95,0L0.38,0L0.38,1L-0.38,1L-0.38,0L-0.95,0Z", "size": 121, "filled": true, "opacity": 1, "color": "#ec5843", "yOffset": 13, "xOffset": {"expr": "-(13+length(replace(datum.inc,',',''))*6.3+(length(datum.inc)-length(replace(datum.inc,',','')))*3+length(datum.unit)*9.5)/2+5"}},
                 "encoding": {"x": {"aggregate": "mean", "field": "yr", "type": "quantitative"}, "y": {"aggregate": "mean", "field": "val", "type": "quantitative"}, "detail": [{"field": "inc"}, {"field": "unit"}]}},
                {"data": {"name": "changes"}, "transform": [{"filter": "datum.band === 4"}, {"fold": ["from_year", "to_year"], "as": ["k1", "yr"]}, {"fold": ["from_value", "to_value"], "as": ["k2", "val"]}],
                 "mark": {"type": "text", "align": "left", "fontSize": 12, "color": "#555555", "dy": 13, "dx": {"expr": "-(13+length(replace(datum.inc,',',''))*6.3+(length(datum.inc)-length(replace(datum.inc,',','')))*3+length(datum.unit)*9.5)/2+13"}},
                 "encoding": {"x": {"aggregate": "mean", "field": "yr", "type": "quantitative"}, "y": {"aggregate": "mean", "field": "val", "type": "quantitative"}, "text": {"field": "inc"}, "detail": {"field": "unit"}}},
                {"data": {"name": "changes"}, "transform": [{"filter": "datum.band === 4"}, {"fold": ["from_year", "to_year"], "as": ["k1", "yr"]}, {"fold": ["from_value", "to_value"], "as": ["k2", "val"]}],
                 "mark": {"type": "text", "align": "left", "fontSize": 9.5, "color": "#555555", "dy": 14, "dx": {"expr": "-(13+length(replace(datum.inc,',',''))*6.3+(length(datum.inc)-length(replace(datum.inc,',','')))*3+length(datum.unit)*9.5)/2+13.5+length(replace(datum.inc,',',''))*6.3+(length(datum.inc)-length(replace(datum.inc,',','')))*3"}},
                 "encoding": {"x": {"aggregate": "mean", "field": "yr", "type": "quantitative"}, "y": {"aggregate": "mean", "field": "val", "type": "quantitative"}, "text": {"field": "unit"}, "detail": {"field": "inc"}}}
              ]
            },
            {
              "width": 608,
              "height": 79,
              "layer": [
                {"data": {"name": "bands"}, "transform": [{"filter": "datum.band === 3"}],
                 "mark": {"type": "rule", "stroke": "#c3ccd4", "strokeWidth": 1, "strokeDash": [2, 2]},
                 "encoding": {"x": {"datum": 2019.93578, "type": "quantitative", "scale": {"domain": [2019.93578, 2023.65443], "nice": false, "zero": false, "padding": 0}}, "x2": {"datum": 2023.65443}, "y": {"datum": 72728, "type": "quantitative", "scale": {"domain": [43206, 72728], "nice": false, "zero": false}}}},
                {"data": {"name": "bands"}, "transform": [{"filter": "datum.band === 3"}],
                 "mark": {"type": "rect", "color": "#00a6e9"},
                 "encoding": {"x": {"datum": 2019.93578, "type": "quantitative"}, "x2": {"datum": 2020.40061}, "y": {"datum": 43206, "type": "quantitative"}, "y2": {"datum": 72728}}},
                {"data": {"name": "bands"}, "transform": [{"filter": "datum.band === 3"}],
                 "mark": {"type": "text", "fontSize": 15, "fontWeight": "bold", "color": "#ffffff"},
                 "encoding": {"x": {"datum": 2020.1682, "type": "quantitative"}, "y": {"datum": 57967, "type": "quantitative"}, "text": {"field": "name"}}},
                {"data": {"name": "holdings"}, "transform": [{"filter": "datum.band === 3 && datum.year <= 2022"}],
                 "mark": {"type": "line", "stroke": "#8ea3b2", "strokeWidth": 1.3},
                 "encoding": {"x": {"field": "year", "type": "quantitative"}, "y": {"field": "value", "type": "quantitative"}}},
                {"data": {"name": "holdings"}, "transform": [{"filter": "datum.band === 3 && datum.year >= 2022"}],
                 "mark": {"type": "line", "strokeWidth": 1.3, "stroke": {"gradient": "linear", "stops": [{"offset": 0, "color": "#8ea3b2"}, {"offset": 1, "color": "#00a6e9"}]}},
                 "encoding": {"x": {"field": "year", "type": "quantitative"}, "y": {"field": "value", "type": "quantitative"}}},
                {"data": {"name": "holdings"}, "transform": [{"filter": "datum.band === 3"}],
                 "mark": {"type": "point", "shape": "circle", "filled": true, "size": 81, "opacity": 1},
                 "encoding": {"x": {"field": "year", "type": "quantitative"}, "y": {"field": "value", "type": "quantitative"}, "color": {"condition": {"test": "datum.year === 2023", "value": "#00a6e9"}, "value": "#7b93a5"}}},
                {"data": {"name": "holdings"}, "transform": [{"filter": "datum.band === 3"}],
                 "mark": {"type": "text", "align": "right", "baseline": "alphabetic", "fontSize": 18, "fontWeight": "bold", "dy": -11.7, "dx": {"expr": "(length(datum.eok)*10.4-16-length(replace(datum.man,',',''))*10.4-(length(datum.man)-length(replace(datum.man,',','')))*4.5-length(datum.unit)*11)/2"}},
                 "encoding": {"x": {"field": "year", "type": "quantitative"}, "y": {"field": "value", "type": "quantitative"}, "text": {"field": "eok"}, "color": {"condition": {"test": "datum.year === 2023", "value": "#00a6e9"}, "value": "#7b93a5"}}},
                {"data": {"name": "holdings"}, "transform": [{"filter": "datum.band === 3"}],
                 "mark": {"type": "text", "align": "left", "baseline": "alphabetic", "fontSize": 11, "dy": -11.7, "dx": {"expr": "(length(datum.eok)*10.4-16-length(replace(datum.man,',',''))*10.4-(length(datum.man)-length(replace(datum.man,',','')))*4.5-length(datum.unit)*11)/2+1"}},
                 "encoding": {"x": {"field": "year", "type": "quantitative"}, "y": {"field": "value", "type": "quantitative"}, "text": {"value": "억"}, "color": {"condition": {"test": "datum.year === 2023", "value": "#00a6e9"}, "value": "#7b93a5"}}},
                {"data": {"name": "holdings"}, "transform": [{"filter": "datum.band === 3"}],
                 "mark": {"type": "text", "align": "left", "baseline": "alphabetic", "fontSize": 18, "fontWeight": "bold", "dy": -11.7, "dx": {"expr": "(length(datum.eok)*10.4-16-length(replace(datum.man,',',''))*10.4-(length(datum.man)-length(replace(datum.man,',','')))*4.5-length(datum.unit)*11)/2+16"}},
                 "encoding": {"x": {"field": "year", "type": "quantitative"}, "y": {"field": "value", "type": "quantitative"}, "text": {"field": "man"}, "color": {"condition": {"test": "datum.year === 2023", "value": "#00a6e9"}, "value": "#7b93a5"}}},
                {"data": {"name": "holdings"}, "transform": [{"filter": "datum.band === 3"}],
                 "mark": {"type": "text", "align": "left", "baseline": "alphabetic", "fontSize": 11, "dy": -11.7, "dx": {"expr": "(length(datum.eok)*10.4-16-length(replace(datum.man,',',''))*10.4-(length(datum.man)-length(replace(datum.man,',','')))*4.5-length(datum.unit)*11)/2+17+length(replace(datum.man,',',''))*10.4+(length(datum.man)-length(replace(datum.man,',','')))*4.5"}},
                 "encoding": {"x": {"field": "year", "type": "quantitative"}, "y": {"field": "value", "type": "quantitative"}, "text": {"field": "unit"}, "color": {"condition": {"test": "datum.year === 2023", "value": "#00a6e9"}, "value": "#7b93a5"}}},
                {"data": {"name": "changes"}, "transform": [{"filter": "datum.band === 3"}, {"fold": ["from_year", "to_year"], "as": ["k1", "yr"]}, {"fold": ["from_value", "to_value"], "as": ["k2", "val"]}],
                 "mark": {"type": "point", "shape": "M0,-1L0.95,0L0.38,0L0.38,1L-0.38,1L-0.38,0L-0.95,0Z", "size": 121, "filled": true, "opacity": 1, "color": "#ec5843", "yOffset": 13, "xOffset": {"expr": "-(13+length(replace(datum.inc,',',''))*6.3+(length(datum.inc)-length(replace(datum.inc,',','')))*3+length(datum.unit)*9.5)/2+5"}},
                 "encoding": {"x": {"aggregate": "mean", "field": "yr", "type": "quantitative"}, "y": {"aggregate": "mean", "field": "val", "type": "quantitative"}, "detail": [{"field": "inc"}, {"field": "unit"}]}},
                {"data": {"name": "changes"}, "transform": [{"filter": "datum.band === 3"}, {"fold": ["from_year", "to_year"], "as": ["k1", "yr"]}, {"fold": ["from_value", "to_value"], "as": ["k2", "val"]}],
                 "mark": {"type": "text", "align": "left", "fontSize": 12, "color": "#555555", "dy": 13, "dx": {"expr": "-(13+length(replace(datum.inc,',',''))*6.3+(length(datum.inc)-length(replace(datum.inc,',','')))*3+length(datum.unit)*9.5)/2+13"}},
                 "encoding": {"x": {"aggregate": "mean", "field": "yr", "type": "quantitative"}, "y": {"aggregate": "mean", "field": "val", "type": "quantitative"}, "text": {"field": "inc"}, "detail": {"field": "unit"}}},
                {"data": {"name": "changes"}, "transform": [{"filter": "datum.band === 3"}, {"fold": ["from_year", "to_year"], "as": ["k1", "yr"]}, {"fold": ["from_value", "to_value"], "as": ["k2", "val"]}],
                 "mark": {"type": "text", "align": "left", "fontSize": 9.5, "color": "#555555", "dy": 14, "dx": {"expr": "-(13+length(replace(datum.inc,',',''))*6.3+(length(datum.inc)-length(replace(datum.inc,',','')))*3+length(datum.unit)*9.5)/2+13.5+length(replace(datum.inc,',',''))*6.3+(length(datum.inc)-length(replace(datum.inc,',','')))*3"}},
                 "encoding": {"x": {"aggregate": "mean", "field": "yr", "type": "quantitative"}, "y": {"aggregate": "mean", "field": "val", "type": "quantitative"}, "text": {"field": "unit"}, "detail": {"field": "inc"}}}
              ]
            },
            {
              "width": 608,
              "height": 77,
              "layer": [
                {"data": {"name": "bands"}, "transform": [{"filter": "datum.band === 2"}],
                 "mark": {"type": "rule", "stroke": "#c3ccd4", "strokeWidth": 1, "strokeDash": [2, 2]},
                 "encoding": {"x": {"datum": 2019.93578, "type": "quantitative", "scale": {"domain": [2019.93578, 2023.65443], "nice": false, "zero": false, "padding": 0}}, "x2": {"datum": 2023.65443}, "y": {"datum": 46099, "type": "quantitative", "scale": {"domain": [17238, 46099], "nice": false, "zero": false}}}},
                {"data": {"name": "bands"}, "transform": [{"filter": "datum.band === 2"}],
                 "mark": {"type": "rect", "color": "#00b4bf"},
                 "encoding": {"x": {"datum": 2019.93578, "type": "quantitative"}, "x2": {"datum": 2020.40061}, "y": {"datum": 17238, "type": "quantitative"}, "y2": {"datum": 46099}}},
                {"data": {"name": "bands"}, "transform": [{"filter": "datum.band === 2"}],
                 "mark": {"type": "text", "fontSize": 15, "fontWeight": "bold", "color": "#ffffff"},
                 "encoding": {"x": {"datum": 2020.1682, "type": "quantitative"}, "y": {"datum": 31668, "type": "quantitative"}, "text": {"field": "name"}}},
                {"data": {"name": "holdings"}, "transform": [{"filter": "datum.band === 2 && datum.year <= 2022"}],
                 "mark": {"type": "line", "stroke": "#8ea3b2", "strokeWidth": 1.3},
                 "encoding": {"x": {"field": "year", "type": "quantitative"}, "y": {"field": "value", "type": "quantitative"}}},
                {"data": {"name": "holdings"}, "transform": [{"filter": "datum.band === 2 && datum.year >= 2022"}],
                 "mark": {"type": "line", "strokeWidth": 1.3, "stroke": {"gradient": "linear", "stops": [{"offset": 0, "color": "#8ea3b2"}, {"offset": 1, "color": "#00b4bf"}]}},
                 "encoding": {"x": {"field": "year", "type": "quantitative"}, "y": {"field": "value", "type": "quantitative"}}},
                {"data": {"name": "holdings"}, "transform": [{"filter": "datum.band === 2"}],
                 "mark": {"type": "point", "shape": "circle", "filled": true, "size": 81, "opacity": 1},
                 "encoding": {"x": {"field": "year", "type": "quantitative"}, "y": {"field": "value", "type": "quantitative"}, "color": {"condition": {"test": "datum.year === 2023", "value": "#00b4bf"}, "value": "#7b93a5"}}},
                {"data": {"name": "holdings"}, "transform": [{"filter": "datum.band === 2"}],
                 "mark": {"type": "text", "align": "right", "baseline": "alphabetic", "fontSize": 18, "fontWeight": "bold", "dy": -11.7, "dx": {"expr": "(length(datum.eok)*10.4-16-length(replace(datum.man,',',''))*10.4-(length(datum.man)-length(replace(datum.man,',','')))*4.5-length(datum.unit)*11)/2"}},
                 "encoding": {"x": {"field": "year", "type": "quantitative"}, "y": {"field": "value", "type": "quantitative"}, "text": {"field": "eok"}, "color": {"condition": {"test": "datum.year === 2023", "value": "#00b4bf"}, "value": "#7b93a5"}}},
                {"data": {"name": "holdings"}, "transform": [{"filter": "datum.band === 2"}],
                 "mark": {"type": "text", "align": "left", "baseline": "alphabetic", "fontSize": 11, "dy": -11.7, "dx": {"expr": "(length(datum.eok)*10.4-16-length(replace(datum.man,',',''))*10.4-(length(datum.man)-length(replace(datum.man,',','')))*4.5-length(datum.unit)*11)/2+1"}},
                 "encoding": {"x": {"field": "year", "type": "quantitative"}, "y": {"field": "value", "type": "quantitative"}, "text": {"value": "억"}, "color": {"condition": {"test": "datum.year === 2023", "value": "#00b4bf"}, "value": "#7b93a5"}}},
                {"data": {"name": "holdings"}, "transform": [{"filter": "datum.band === 2"}],
                 "mark": {"type": "text", "align": "left", "baseline": "alphabetic", "fontSize": 18, "fontWeight": "bold", "dy": -11.7, "dx": {"expr": "(length(datum.eok)*10.4-16-length(replace(datum.man,',',''))*10.4-(length(datum.man)-length(replace(datum.man,',','')))*4.5-length(datum.unit)*11)/2+16"}},
                 "encoding": {"x": {"field": "year", "type": "quantitative"}, "y": {"field": "value", "type": "quantitative"}, "text": {"field": "man"}, "color": {"condition": {"test": "datum.year === 2023", "value": "#00b4bf"}, "value": "#7b93a5"}}},
                {"data": {"name": "holdings"}, "transform": [{"filter": "datum.band === 2"}],
                 "mark": {"type": "text", "align": "left", "baseline": "alphabetic", "fontSize": 11, "dy": -11.7, "dx": {"expr": "(length(datum.eok)*10.4-16-length(replace(datum.man,',',''))*10.4-(length(datum.man)-length(replace(datum.man,',','')))*4.5-length(datum.unit)*11)/2+17+length(replace(datum.man,',',''))*10.4+(length(datum.man)-length(replace(datum.man,',','')))*4.5"}},
                 "encoding": {"x": {"field": "year", "type": "quantitative"}, "y": {"field": "value", "type": "quantitative"}, "text": {"field": "unit"}, "color": {"condition": {"test": "datum.year === 2023", "value": "#00b4bf"}, "value": "#7b93a5"}}},
                {"data": {"name": "changes"}, "transform": [{"filter": "datum.band === 2"}, {"fold": ["from_year", "to_year"], "as": ["k1", "yr"]}, {"fold": ["from_value", "to_value"], "as": ["k2", "val"]}],
                 "mark": {"type": "point", "shape": "M0,-1L0.95,0L0.38,0L0.38,1L-0.38,1L-0.38,0L-0.95,0Z", "size": 121, "filled": true, "opacity": 1, "color": "#ec5843", "yOffset": 13, "xOffset": {"expr": "-(13+length(replace(datum.inc,',',''))*6.3+(length(datum.inc)-length(replace(datum.inc,',','')))*3+length(datum.unit)*9.5)/2+5"}},
                 "encoding": {"x": {"aggregate": "mean", "field": "yr", "type": "quantitative"}, "y": {"aggregate": "mean", "field": "val", "type": "quantitative"}, "detail": [{"field": "inc"}, {"field": "unit"}]}},
                {"data": {"name": "changes"}, "transform": [{"filter": "datum.band === 2"}, {"fold": ["from_year", "to_year"], "as": ["k1", "yr"]}, {"fold": ["from_value", "to_value"], "as": ["k2", "val"]}],
                 "mark": {"type": "text", "align": "left", "fontSize": 12, "color": "#555555", "dy": 13, "dx": {"expr": "-(13+length(replace(datum.inc,',',''))*6.3+(length(datum.inc)-length(replace(datum.inc,',','')))*3+length(datum.unit)*9.5)/2+13"}},
                 "encoding": {"x": {"aggregate": "mean", "field": "yr", "type": "quantitative"}, "y": {"aggregate": "mean", "field": "val", "type": "quantitative"}, "text": {"field": "inc"}, "detail": {"field": "unit"}}},
                {"data": {"name": "changes"}, "transform": [{"filter": "datum.band === 2"}, {"fold": ["from_year", "to_year"], "as": ["k1", "yr"]}, {"fold": ["from_value", "to_value"], "as": ["k2", "val"]}],
                 "mark": {"type": "text", "align": "left", "fontSize": 9.5, "color": "#555555", "dy": 14, "dx": {"expr": "-(13+length(replace(datum.inc,',',''))*6.3+(length(datum.inc)-length(replace(datum.inc,',','')))*3+length(datum.unit)*9.5)/2+13.5+length(replace(datum.inc,',',''))*6.3+(length(datum.inc)-length(replace(datum.inc,',','')))*3"}},
                 "encoding": {"x": {"aggregate": "mean", "field": "yr", "type": "quantitative"}, "y": {"aggregate": "mean", "field": "val", "type": "quantitative"}, "text": {"field": "unit"}, "detail": {"field": "inc"}}}
              ]
            },
            {
              "width": 608,
              "height": 108,
              "layer": [
                {"data": {"name": "bands"}, "transform": [{"filter": "datum.band === 1"}],
                 "mark": {"type": "rule", "stroke": "#c3ccd4", "strokeWidth": 1, "strokeDash": [2, 2]},
                 "encoding": {"x": {"datum": 2019.93578, "type": "quantitative", "scale": {"domain": [2019.93578, 2023.65443], "nice": false, "zero": false, "padding": 0}}, "x2": {"datum": 2023.65443}, "y": {"datum": 38228, "type": "quantitative", "scale": {"domain": [-19234, 38228], "nice": false, "zero": false}}}},
                {"data": {"name": "bands"}, "transform": [{"filter": "datum.band === 1"}],
                 "mark": {"type": "rect", "color": "#5cc5c6"},
                 "encoding": {"x": {"datum": 2019.93578, "type": "quantitative"}, "x2": {"datum": 2020.40061}, "y": {"datum": -3272, "type": "quantitative"}, "y2": {"datum": 38228}}},
                {"data": {"name": "bands"}, "transform": [{"filter": "datum.band === 1"}],
                 "mark": {"type": "text", "fontSize": 15, "fontWeight": "bold", "color": "#ffffff", "dy": -8},
                 "encoding": {"x": {"datum": 2020.1682, "type": "quantitative"}, "y": {"datum": 17478, "type": "quantitative"}, "text": {"field": "name"}}},
                {"data": {"name": "bands"}, "transform": [{"filter": "datum.band === 1"}],
                 "mark": {"type": "text", "fontSize": 11.5, "color": "#ffffff", "dy": 9},
                 "encoding": {"x": {"datum": 2020.1682, "type": "quantitative"}, "y": {"datum": 17478, "type": "quantitative"}, "text": {"field": "note"}}},
                {"data": {"values": [{}]}, "mark": {"type": "rule", "stroke": "#999999", "strokeWidth": 1.5},
                 "encoding": {"x": {"datum": 2019.93578, "type": "quantitative"}, "x2": {"datum": 2023.65443}, "y": {"datum": -3272, "type": "quantitative"}}},
                {"data": {"name": "years"},
                 "mark": {"type": "text", "fontSize": 12, "color": "#333333", "dy": 16},
                 "encoding": {"x": {"field": "year", "type": "quantitative"}, "y": {"datum": -3272, "type": "quantitative"}, "text": {"field": "label"}}},
                {"data": {"name": "holdings"}, "transform": [{"filter": "datum.band === 1 && datum.year <= 2022"}],
                 "mark": {"type": "line", "stroke": "#8ea3b2", "strokeWidth": 1.3},
                 "encoding": {"x": {"field": "year", "type": "quantitative"}, "y": {"field": "value", "type": "quantitative"}}},
                {"data": {"name": "holdings"}, "transform": [{"filter": "datum.band === 1 && datum.year >= 2022"}],
                 "mark": {"type": "line", "strokeWidth": 1.3, "stroke": {"gradient": "linear", "stops": [{"offset": 0, "color": "#8ea3b2"}, {"offset": 1, "color": "#5cc5c6"}]}},
                 "encoding": {"x": {"field": "year", "type": "quantitative"}, "y": {"field": "value", "type": "quantitative"}}},
                {"data": {"name": "holdings"}, "transform": [{"filter": "datum.band === 1"}],
                 "mark": {"type": "point", "shape": "circle", "filled": true, "size": 81, "opacity": 1},
                 "encoding": {"x": {"field": "year", "type": "quantitative"}, "y": {"field": "value", "type": "quantitative"}, "color": {"condition": {"test": "datum.year === 2023", "value": "#5cc5c6"}, "value": "#7b93a5"}}},
                {"data": {"name": "holdings"}, "transform": [{"filter": "datum.band === 1"}],
                 "mark": {"type": "text", "align": "right", "baseline": "alphabetic", "fontSize": 18, "fontWeight": "bold", "dy": -11.7, "dx": {"expr": "(length(datum.eok)*10.4-16-length(replace(datum.man,',',''))*10.4-(length(datum.man)-length(replace(datum.man,',','')))*4.5-length(datum.unit)*11)/2"}},
                 "encoding": {"x": {"field": "year", "type": "quantitative"}, "y": {"field": "value", "type": "quantitative"}, "text": {"field": "eok"}, "color": {"condition": {"test": "datum.year === 2023", "value": "#5cc5c6"}, "value": "#7b93a5"}}},
                {"data": {"name": "holdings"}, "transform": [{"filter": "datum.band === 1"}],
                 "mark": {"type": "text", "align": "left", "baseline": "alphabetic", "fontSize": 11, "dy": -11.7, "dx": {"expr": "(length(datum.eok)*10.4-16-length(replace(datum.man,',',''))*10.4-(length(datum.man)-length(replace(datum.man,',','')))*4.5-length(datum.unit)*11)/2+1"}},
                 "encoding": {"x": {"field": "year", "type": "quantitative"}, "y": {"field": "value", "type": "quantitative"}, "text": {"value": "억"}, "color": {"condition": {"test": "datum.year === 2023", "value": "#5cc5c6"}, "value": "#7b93a5"}}},
                {"data": {"name": "holdings"}, "transform": [{"filter": "datum.band === 1"}],
                 "mark": {"type": "text", "align": "left", "baseline": "alphabetic", "fontSize": 18, "fontWeight": "bold", "dy": -11.7, "dx": {"expr": "(length(datum.eok)*10.4-16-length(replace(datum.man,',',''))*10.4-(length(datum.man)-length(replace(datum.man,',','')))*4.5-length(datum.unit)*11)/2+16"}},
                 "encoding": {"x": {"field": "year", "type": "quantitative"}, "y": {"field": "value", "type": "quantitative"}, "text": {"field": "man"}, "color": {"condition": {"test": "datum.year === 2023", "value": "#5cc5c6"}, "value": "#7b93a5"}}},
                {"data": {"name": "holdings"}, "transform": [{"filter": "datum.band === 1"}],
                 "mark": {"type": "text", "align": "left", "baseline": "alphabetic", "fontSize": 11, "dy": -11.7, "dx": {"expr": "(length(datum.eok)*10.4-16-length(replace(datum.man,',',''))*10.4-(length(datum.man)-length(replace(datum.man,',','')))*4.5-length(datum.unit)*11)/2+17+length(replace(datum.man,',',''))*10.4+(length(datum.man)-length(replace(datum.man,',','')))*4.5"}},
                 "encoding": {"x": {"field": "year", "type": "quantitative"}, "y": {"field": "value", "type": "quantitative"}, "text": {"field": "unit"}, "color": {"condition": {"test": "datum.year === 2023", "value": "#5cc5c6"}, "value": "#7b93a5"}}},
                {"data": {"name": "changes"}, "transform": [{"filter": "datum.band === 1"}, {"fold": ["from_year", "to_year"], "as": ["k1", "yr"]}, {"fold": ["from_value", "to_value"], "as": ["k2", "val"]}],
                 "mark": {"type": "point", "shape": "M0,-1L0.95,0L0.38,0L0.38,1L-0.38,1L-0.38,0L-0.95,0Z", "size": 121, "filled": true, "opacity": 1, "color": "#ec5843", "yOffset": 13, "xOffset": {"expr": "-(13+length(replace(datum.inc,',',''))*6.3+(length(datum.inc)-length(replace(datum.inc,',','')))*3+length(datum.unit)*9.5)/2+5"}},
                 "encoding": {"x": {"aggregate": "mean", "field": "yr", "type": "quantitative"}, "y": {"aggregate": "mean", "field": "val", "type": "quantitative"}, "detail": [{"field": "inc"}, {"field": "unit"}]}},
                {"data": {"name": "changes"}, "transform": [{"filter": "datum.band === 1"}, {"fold": ["from_year", "to_year"], "as": ["k1", "yr"]}, {"fold": ["from_value", "to_value"], "as": ["k2", "val"]}],
                 "mark": {"type": "text", "align": "left", "fontSize": 12, "color": "#555555", "dy": 13, "dx": {"expr": "-(13+length(replace(datum.inc,',',''))*6.3+(length(datum.inc)-length(replace(datum.inc,',','')))*3+length(datum.unit)*9.5)/2+13"}},
                 "encoding": {"x": {"aggregate": "mean", "field": "yr", "type": "quantitative"}, "y": {"aggregate": "mean", "field": "val", "type": "quantitative"}, "text": {"field": "inc"}, "detail": {"field": "unit"}}},
                {"data": {"name": "changes"}, "transform": [{"filter": "datum.band === 1"}, {"fold": ["from_year", "to_year"], "as": ["k1", "yr"]}, {"fold": ["from_value", "to_value"], "as": ["k2", "val"]}],
                 "mark": {"type": "text", "align": "left", "fontSize": 9.5, "color": "#555555", "dy": 14, "dx": {"expr": "-(13+length(replace(datum.inc,',',''))*6.3+(length(datum.inc)-length(replace(datum.inc,',','')))*3+length(datum.unit)*9.5)/2+13.5+length(replace(datum.inc,',',''))*6.3+(length(datum.inc)-length(replace(datum.inc,',','')))*3"}},
                 "encoding": {"x": {"aggregate": "mean", "field": "yr", "type": "quantitative"}, "y": {"aggregate": "mean", "field": "val", "type": "quantitative"}, "text": {"field": "unit"}, "detail": {"field": "inc"}}}
              ]
            }
          ],
          "spacing": 0,
          "bounds": "flush"
        }
      ],
      "spacing": 190,
      "bounds": "flush"
    },
    {
      "width": 1360,
      "height": 94,
      "layer": [
        {"data": {"values": [{"t": "2021년부터 5억원대를 유지했던 가구 내 평균 보유 자산이 2023년에 처음으로 6억원대를 돌파했다."}]},
         "mark": {"type": "text", "align": "left", "fontSize": 12, "color": "#444444"},
         "encoding": {"x": {"datum": 25, "type": "quantitative", "scale": {"domain": [25, 1385], "nice": false, "zero": false}}, "y": {"datum": 830, "type": "quantitative", "scale": {"domain": [781, 875], "nice": false, "zero": false, "reverse": true}}, "text": {"field": "t"}}},
        {"data": {"values": [{"t": "2022년에 2021년보다 11.0% 증가한 반면 2023년에는 4.8% 늘면서 증가세는 완화됐다."}]},
         "mark": {"type": "text", "align": "left", "fontSize": 12, "color": "#444444"},
         "encoding": {"x": {"datum": 25, "type": "quantitative"}, "y": {"datum": 856, "type": "quantitative"}, "text": {"field": "t"}}},
        {"data": {"values": [{"t": "최근 2년간 가구소득 1~5구간 모두 평균 보유 자산이 증가했다."}]},
         "mark": {"type": "text", "align": "left", "fontSize": 12, "color": "#444444"},
         "encoding": {"x": {"datum": 778, "type": "quantitative"}, "y": {"datum": 830, "type": "quantitative"}, "text": {"field": "t"}}},
        {"data": {"values": [{"t": "하지만 2023년 자산액 증가 규모는 2022년에 비해 절반 수준에 그치면서 자산 증식 속도가 주춤했다."}]},
         "mark": {"type": "text", "align": "left", "fontSize": 12, "color": "#444444"},
         "encoding": {"x": {"datum": 778, "type": "quantitative"}, "y": {"datum": 850, "type": "quantitative"}, "text": {"field": "t"}}},
        {"data": {"values": [{"t": "2023년에 1구간, 2구간은 각각 1,291만원, 1,582만원 늘어나 1억 6,130만원, 3억 3,391만원을 보유했다."}]},
         "mark": {"type": "text", "align": "left", "fontSize": 12, "color": "#444444"},
         "encoding": {"x": {"datum": 778, "type": "quantitative"}, "y": {"datum": 872, "type": "quantitative"}, "text": {"field": "t"}}}
      ]
    }
  ]
}
